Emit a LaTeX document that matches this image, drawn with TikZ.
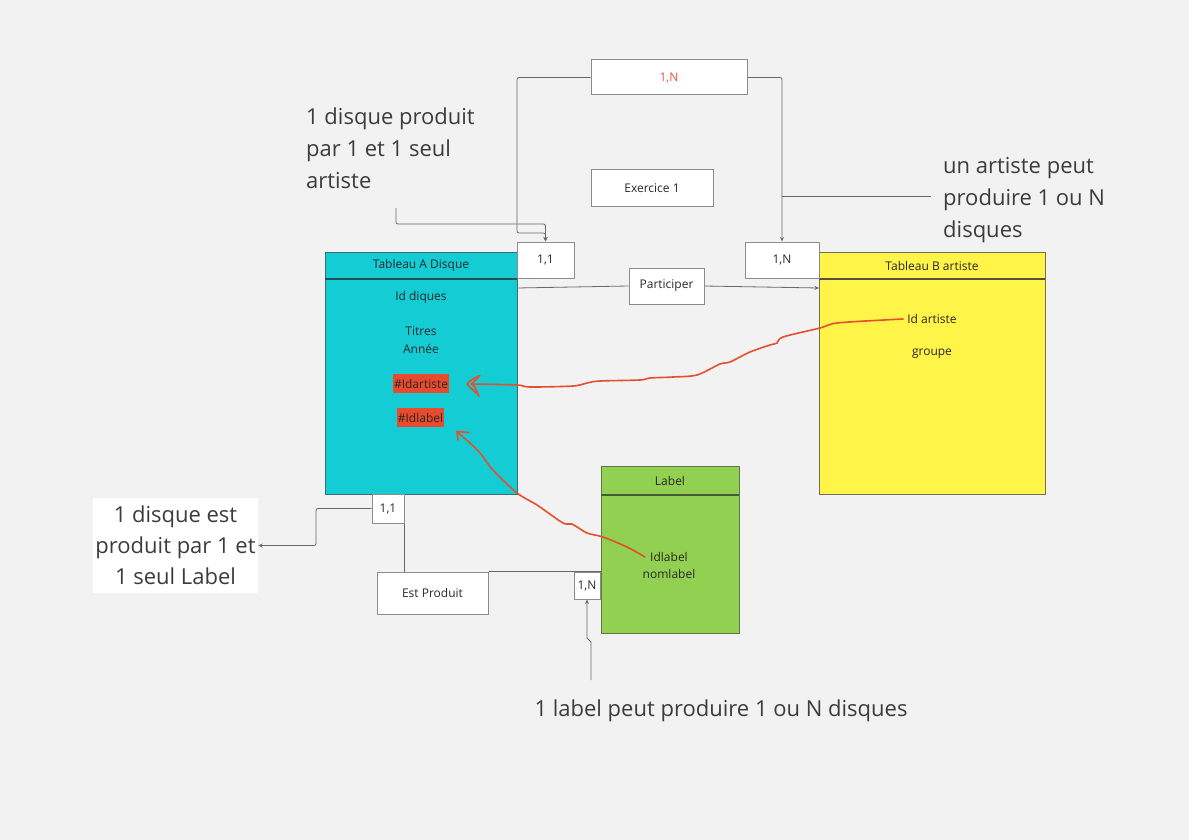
\documentclass[tikz,border=0pt]{standalone}
\usepackage{fontspec}
\setmainfont{Open Sans}
\usetikzlibrary{arrows.meta,calc}
\definecolor{bg}{RGB}{242,242,242}
\definecolor{tealc}{RGB}{19,204,212}
\definecolor{yellowc}{RGB}{255,244,71}
\definecolor{greenc}{RGB}{145,208,80}
\definecolor{tealb}{RGB}{60,110,115}
\definecolor{teals}{RGB}{30,80,85}
\definecolor{yellowb}{RGB}{110,110,90}
\definecolor{yellows}{RGB}{80,80,70}
\definecolor{greenb}{RGB}{95,120,75}
\definecolor{greens}{RGB}{70,90,55}
\definecolor{redhl}{RGB}{232,74,45}
\definecolor{redline}{RGB}{230,78,48}
\definecolor{linegray}{RGB}{105,105,105}
\definecolor{boxgray}{RGB}{140,140,140}
\definecolor{tx}{RGB}{40,40,40}
\definecolor{bigtx}{RGB}{60,60,60}
\definecolor{orangetx}{RGB}{232,85,60}
\newcommand{\smf}{\fontsize{12}{14}\selectfont}
\newcommand{\bigf}{\fontsize{22}{32}\selectfont}
\newcommand{\bigh}{\fontsize{22}{31}\selectfont}
\tikzset{
  conn/.style={draw=linegray, line width=0.8pt, rounded corners=2pt},
  arr/.style={-{Stealth[length=4.5pt,width=4pt]}},
  wbox/.style={draw=boxgray, fill=white, line width=1pt, inner sep=0pt, font=\smf, text=tx},
  tbl/.style={draw=#1, line width=1pt, inner sep=0pt},
  sepl/.style={draw=#1, line width=1.4pt},
  lbl/.style={font=\smf, text=tx, inner sep=1pt},
  hl/.style={font=\smf, text=tx, fill=redhl, inner xsep=1pt, inner ysep=0pt, minimum height=19},
  bignote/.style={font=\bigf, text=bigtx, align=left, inner sep=0pt},
  redc/.style={draw=redline, line width=1.6pt, line cap=round, line join=round},
}
\begin{document}
\begin{tikzpicture}[x=1pt,y=-1pt]
\fill[bg] (0,0) rectangle (1189,840);
\useasboundingbox (0,0) rectangle (1189,840);

% ---- tables ----
\node[tbl=tealb, fill=tealc, minimum width=192, minimum height=242, anchor=north west] (ta) at (325,252) {};
\draw[sepl=teals] (325,279) -- (517,279);
\node[lbl] (tah) at (421,265.5) {Tableau A Disque};
\node[lbl] (ta1) at (421,297) {Id diques};
\node[lbl] (ta2) at (421,331) {Titres};
\node[lbl] (ta3) at (421,349) {Année};
\node[hl] (hida) at (421,383.5) {\#Idartiste};
\node[hl] (hidl) at (420.5,417.5) {\#Idlabel};

\node[tbl=yellowb, fill=yellowc, minimum width=226, minimum height=242, anchor=north west] (tb) at (819,252) {};
\draw[sepl=yellows] (819,279) -- (1045,279);
\node[lbl] (tbh) at (932,265.5) {Tableau B artiste};
\node[lbl] (ida) at (932,319) {Id artiste};
\node[lbl] (tb2) at (932,354) {groupe};

\node[tbl=greenb, fill=greenc, minimum width=138, minimum height=167, anchor=north west] (tl) at (601,466) {};
\draw[sepl=greens] (601,495) -- (739,495);
\node[lbl] (tlh) at (670,480.5) {Label};
\node[lbl] (idl) at (669,557) {Idlabel};
\node[lbl] (tl2) at (669,574) {nomlabel};

% ---- boxes ----
\node[wbox, minimum width=156, minimum height=35, text=orangetx] (cardtop) at (669,77.5) {1,N};
\node[wbox, minimum width=122, minimum height=36] (exo) at (652,188) {Exercice 1};
\node[wbox, minimum width=57, minimum height=36] (c11) at (545.5,260) {1,1};
\node[wbox, minimum width=74, minimum height=36] (c1n) at (782,260) {1,N};
\node[wbox, minimum width=75, minimum height=36] (part) at (666.5,286) {Participer};
\node[wbox, minimum width=32, minimum height=29] (c11b) at (388,508.5) {1,1};
\node[wbox, minimum width=111, minimum height=42] (est) at (432.5,593) {Est Produit};
\node[wbox, minimum width=26, minimum height=27] (c1nl) at (587,585.5) {1,N};

% ---- notes ----
\node[bignote, anchor=north west] (note1) at (306,108) {1 disque produit\\par 1 et 1 seul\\artiste};
\node[bignote, anchor=north west] (note2) at (943,157) {un artiste peut\\produire 1 ou N\\disques};
\node[fill=white, minimum width=165, minimum height=95, inner sep=0pt, font=\bigh, text=bigtx, align=center] (note3) at (175.5,545.5) {1 disque est\\produit par 1 et\\1 seul Label};
\node[font=\bigf, text=bigtx, inner sep=0pt, anchor=base] (note4) at (721,716) {1 label peut produire 1 ou N disques};

% ---- connectors ----
\coordinate (n1) at (396,208);
\coordinate (n2) at (931,196);
\coordinate (n4) at (591,680);
\draw[conn, arr] (cardtop.west) -| (517,233) -| (c11.north);
\draw[conn, arr] (n1) |- (545.5,224) -- (c11.north);
\draw[conn, arr] (cardtop.east) -| (c1n.north);
\draw[conn] (n2) -- (782,196);
\draw[conn] (517,288) -- (part.west);
\draw[conn, arr] (part.east) -- (819,288);
\draw[conn, arr] (c11b.west) -- (316,508.5) |- (note3.east);
\draw[conn] (c11b.south east) -- (c11b.south east |- est.north);
\draw[conn] (est.north east) -- (c1nl.north east);
\draw[conn, arr, rounded corners=0pt] (n4) -- (591,642) -- (587,638) -- (c1nl.south);

% ---- red hand-drawn links ----
\draw[redc] plot[smooth, tension=0.5] coordinates {($(ida.west)+(-3,0)$) (884,320) (837,323) (820,328) (783,337) (777,343) (770,345) (750,352) (730,362) (720,364) (697,375) (673,377) (650,378) (640,380) (600,381) (587,383) (573,386) (530,387) (517,385) (471,384)};
\draw[redc] (480,375.5) .. controls (474,378) and (469,381) .. (467,384) .. controls (470,388) and (476,392) .. (479,396) .. controls (476,390) and (475,386) .. (472,384) .. controls (474,381) and (477,378) .. (480,375.5);
\draw[redc] plot[smooth, tension=0.5] coordinates {($(idl.west)+(-4,0)$) (627,547) (603,537) (587,533) (572,524) (563,523) (537,505) (517,493) (493,470) (480,453) (470,443) (457,432)};
\draw[redc] (469,432.5) -- (457,431.5) -- (458,440);
\end{tikzpicture}
\end{document}
